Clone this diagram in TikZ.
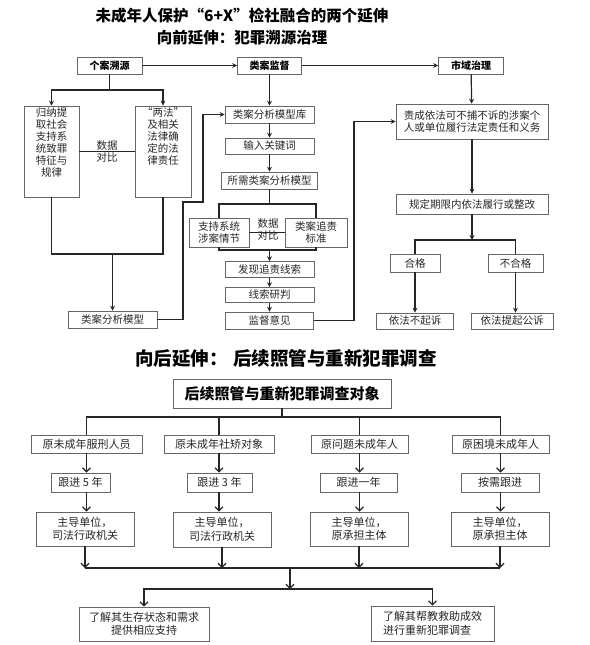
\documentclass[tikz,border=0pt]{standalone}
\usepackage{fontspec}
\setmainfont{Noto Sans CJK SC}
\usetikzlibrary{arrows.meta}
\begin{document}
\begin{tikzpicture}[x=1pt,y=-1pt,
  box/.style={draw=black!60, line width=0.7pt, inner sep=1pt, align=center,
    font=\fontsize{10.5}{12}\selectfont, text=black!85},
  hbox/.style={box, font=\fontsize{10}{12}\selectfont\bfseries, text=black},
  box2/.style={box, font=\fontsize{11}{13.5}\selectfont},
  boxtxt/.style={inner sep=0pt, align=center, font=\fontsize{10.5}{12}\selectfont, text=black!85},
  conn/.style={line width=1.2pt, draw=black!85},
  arr/.style={conn, -{Stealth[length=5pt,width=5pt]}},
  arrb/.style={conn, -{Straight Barb[length=4pt,width=8pt]}},
  ttl/.style={inner sep=0pt, text=black, font=\fontsize{15.5}{18}\selectfont\bfseries}]
\useasboundingbox (0,0) rectangle (589,645);

% ---------- titles ----------
\node[ttl] (title1) at (242,16) {未成年人保护“6+X”检社融合的两个延伸};
\node[ttl] (title2) at (242,38) {向前延伸：犯罪溯源治理};

% ---------- header boxes ----------
\node[hbox, minimum width=65pt, minimum height=17pt] (t1) at (109.5,65.5) {个案溯源};
\node[hbox, minimum width=64pt, minimum height=17pt] (t2) at (269.5,65.5) {类案监督};
\node[hbox, minimum width=65pt, minimum height=17pt] (t3) at (471,65.5) {市域治理};
\draw[arr] (t1) -- (t2);
\draw[arr] (t2) -- (t3);

% ---------- left column ----------
\node[box, minimum width=55pt, minimum height=91pt] (a1) at (51.5,151.5) {};
\node[boxtxt, anchor=north] (a1t) at ([yshift=-1.5pt]a1.north) {归纳提\\取社会\\支持系\\统致罪\\特征与\\规律};
\node[box, minimum width=56pt, minimum height=91pt] (a2) at (163,151.5) {};
\node[boxtxt, anchor=north] (a2t) at ([yshift=-1.5pt]a2.north) {“两法”\\及相关\\法律确\\定的法\\律责任};
\coordinate (j1) at (109.5,90);
\draw[conn] (t1) -- (j1);
\draw[arr] (j1) -| (a1);
\draw[arr] (j1) -| (a2);
\draw[conn] (a1) -- (a2);
\node[boxtxt] (d1) at (107,151) {数据\\对比};
\coordinate (j2) at (112.5,254);
\draw[conn] (a1) |- (j2);
\draw[conn] (a2) |- (j2);
\node[box, minimum width=89pt, minimum height=17pt] (m1) at (112.5,319.5) {类案分析模型};
\draw[arr] (j2) -- (m1);

% ---------- middle column ----------
\node[box, minimum width=89pt, minimum height=17pt] (b1) at (269.5,114.5) {类案分析模型库};
\node[box, minimum width=89pt, minimum height=16pt] (b2) at (269.5,146) {输入关键词};
\node[box, minimum width=96pt, minimum height=17pt] (b3) at (269.5,180.5) {所需类案分析模型};
\draw[arr] (t2) -- (b1);
\draw[arr] (b1) -- (b2);
\draw[arr] (b2) -- (b3);
\coordinate (c1) at (183,202);
\coordinate (c2) at (203,114.5);
\draw[arr] (m1) -| (c1) -| (c2) -- (b1);
\coordinate (j3) at (269.5,204);
\draw[conn] (b3) -- (j3);
\node[box, minimum width=60pt, minimum height=29pt] (b4) at (219,232.5) {支持系统\\涉案情节};
\node[box, minimum width=62pt, minimum height=29pt] (b5) at (316,232.5) {类案追责\\标准};
\draw[conn] (j3) -| (b4);
\draw[conn] (j3) -| (b5);
\draw[conn] (b4) -- (b5);
\node[boxtxt] (d2) at (268,229.5) {数据\\对比};
\coordinate (j4) at (269.5,250);
\draw[conn] (b4) |- (j4);
\draw[conn] (b5) |- (j4);
\node[box, minimum width=89pt, minimum height=16pt] (b6) at (269.5,269.5) {发现追责线索};
\node[box, minimum width=89pt, minimum height=15pt] (b7) at (269.5,295) {线索研判};
\node[box, minimum width=88pt, minimum height=17pt] (b8) at (269.5,320.5) {监督意见};
\draw[arr] (j4) -- (b6);
\draw[arr] (b6) -- (b7);
\draw[arr] (b7) -- (b8);

% ---------- right column ----------
\node[box, minimum width=152pt, minimum height=35pt] (r1) at (472,121.5) {责成依法可不捕不诉的涉案个\\人或单位履行法定责任和义务};
\draw[arr] (t3) -- (r1);
\coordinate (c3) at (354,121.5);
\draw[arr] (b8) -| (c3) -- (r1);
\node[box, minimum width=152pt, minimum height=20pt] (r2) at (472,204) {规定期限内依法履行或整改};
\draw[arr] (r1) -- (r2);
\coordinate (j5) at (472,240);
\draw[arr] (r2) -- (j5);
\node[box, minimum width=50pt, minimum height=18pt] (r3) at (415,263) {合格};
\node[box, minimum width=55pt, minimum height=18pt] (r4) at (515.5,263) {不合格};
\draw[conn] (j5) -| (r3);
\draw[conn] (j5) -| (r4);
\node[box, minimum width=77pt, minimum height=16pt] (r5) at (415,321) {依法不起诉};
\node[box, minimum width=82pt, minimum height=16pt] (r6) at (512,321) {依法提起公诉};
\draw[arr] (r3) -- (r5);
\draw[arr] (r4) -- (r4 |- r6.north);

% ---------- bottom section ----------
\node[ttl, font=\fontsize{18.5}{20}\selectfont\bfseries] (title3) at (286,358) {向后延伸：\hspace{6pt}后续照管与重新犯罪调查};
\node[box, minimum width=218pt, minimum height=29pt, text=black,
  font=\fontsize{15}{18}\selectfont\bfseries] (d0) at (282,393.5) {后续照管与重新犯罪调查对象};
\coordinate (j6) at (282,417);
\draw[conn] (d0) -- (j6);

\node[box2, minimum width=111pt, minimum height=18pt] (e1) at (86.5,444) {原未成年服刑人员};
\node[box2, minimum width=110pt, minimum height=18pt] (e2) at (219,444) {原未成年社矫对象};
\node[box2, minimum width=97pt, minimum height=18pt] (e3) at (359.5,444) {原问题未成年人};
\node[box2, minimum width=97pt, minimum height=18pt] (e4) at (500.5,444) {原困境未成年人};
\foreach \e in {e1,e2,e3,e4} \draw[conn] (j6) -| (\e);

\node[box2, minimum width=59pt, minimum height=19pt] (f1) at (80.5,482.5) {跟进 5 年};
\node[box2, minimum width=65pt, minimum height=19pt] (f2) at (219.5,482.5) {跟进 3 年};
\node[box2, minimum width=77pt, minimum height=19pt] (f3) at (358.5,482.5) {跟进一年};
\node[box2, minimum width=78pt, minimum height=19pt] (f4) at (500,482.5) {按需跟进};

\node[box2, minimum width=98pt, minimum height=34pt] (g1) at (85,529) {主导单位，\\司法行政机关};
\node[box2, minimum width=98pt, minimum height=35pt] (g2) at (222,529.5) {主导单位，\\司法行政机关};
\node[box2, minimum width=98pt, minimum height=34pt] (g3) at (359,529) {主导单位，\\原承担主体};
\node[box2, minimum width=98pt, minimum height=34pt] (g4) at (500,529) {主导单位，\\原承担主体};

\draw[arrb] (e1) -- (e1 |- f1.north);
\draw[arrb] (e2) -- (e2 |- f2.north);
\draw[arrb] (e3) -- (e3 |- f3.north);
\draw[arrb] (e4) -- (e4 |- f4.north);
\draw[arrb] (e1 |- f1.south) -- (e1 |- g1.north);
\draw[arrb] (e2 |- f2.south) -- (e2 |- g2.north);
\draw[arrb] (e3 |- f3.south) -- (e3 |- g3.north);
\draw[arrb] (e4 |- f4.south) -- (e4 |- g4.north);

\coordinate (j7) at (290,568);
\coordinate (j8) at (290,589);
\foreach \g in {g1,g2,g3,g4} \draw[arrb] (\g) -- (\g |- j7);
\draw[conn] (g1 |- j7) -- (g4 |- j7);
\draw[arrb] (j7) -- (j8);

\node[box2, minimum width=130pt, minimum height=34pt] (h1) at (144,624) {了解其生存状态和需求\\提供相应支持};
\node[box2, minimum width=123pt, minimum height=35pt, align=left] (h2) at (432.5,623.5) {了解其帮教救助成效\\进行重新犯罪调查};
\draw[arrb] (j8) -| (h1);
\draw[arrb] (j8) -| (h2);
\end{tikzpicture}
\end{document}
